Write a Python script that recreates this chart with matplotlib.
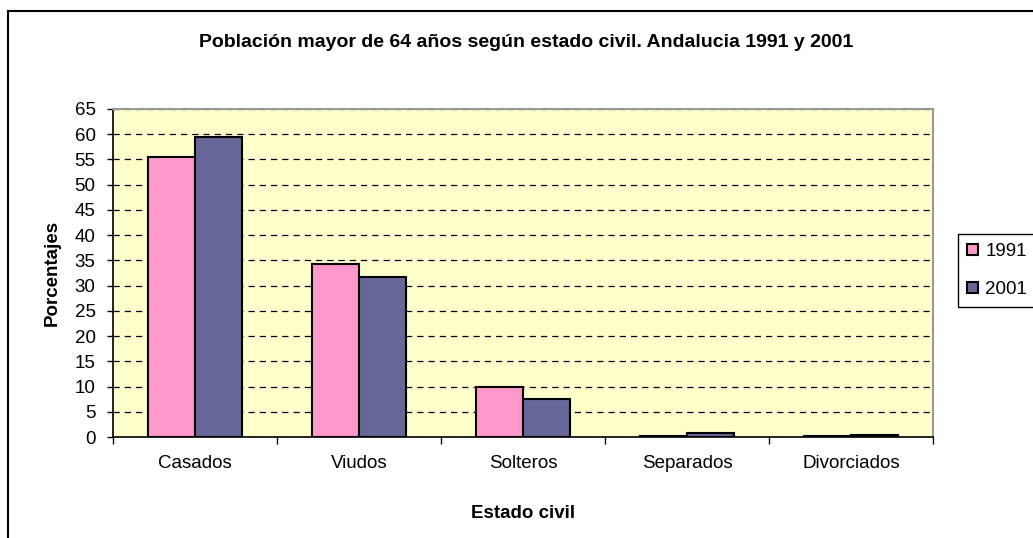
import numpy as np
import matplotlib
matplotlib.use("Agg")
import matplotlib.pyplot as plt
from matplotlib.patches import Rectangle

plt.rcParams['font.family'] = ['Liberation Sans', 'DejaVu Sans']

# datos
categorias = ["Casados", "Viudos", "Solteros", "Separados", "Divorciados"]
valores_1991 = [55.5, 34.2, 9.9, 0.3, 0.2]
valores_2001 = [59.5, 31.8, 7.5, 0.7, 0.4]
series = ["1991", "2001"]

fig = plt.figure(figsize=(10.33, 5.38), dpi=100)
ax = fig.add_axes([0.1094, 0.1877, 0.7938, 0.6097])
ax.set_facecolor("#FFFFCC")

x = np.arange(len(categorias))
w = 0.287
ax.bar(x - w / 2, valores_1991, w, color="#FF99CC", edgecolor="black", linewidth=1.5, label=series[0], zorder=3)
ax.bar(x + w / 2, valores_2001, w, color="#666699", edgecolor="black", linewidth=1.5, label=series[1], zorder=3)

ax.set_xlim(-0.5, len(categorias) - 0.5)
ax.set_ylim(0, 65)
ax.set_yticks(np.arange(0, 66, 5))
ax.yaxis.grid(True, linestyle=(0, (5, 4)), color="black", linewidth=0.9, zorder=0)
ax.set_axisbelow(True)

ax.set_xticks(x)
ax.set_xticklabels(categorias)
ax.set_xticks(np.arange(-0.5, len(categorias), 1), minor=True)
ax.tick_params(axis="x", which="major", length=0, pad=13, labelsize=13.5)
ax.tick_params(axis="x", which="minor", length=5, width=1, direction="out")
ax.tick_params(axis="y", length=4.5, width=1, labelsize=13.5, pad=8)

for s in ["top", "right"]:
    ax.spines[s].set_color("#999999")
    ax.spines[s].set_linewidth(1.5)
for s in ["left", "bottom"]:
    ax.spines[s].set_color("black")
    ax.spines[s].set_linewidth(1.2)

ax.set_ylabel("Porcentajes", fontsize=13.5, fontweight="bold", labelpad=10)
ax.set_xlabel("Estado civil", fontsize=13.5, fontweight="bold", labelpad=24)
fig.text(526 / 1033, 1 - 47 / 538, "Población mayor de 64 años según estado civil. Andalucia 1991 y 2001",
         ha="center", va="baseline", fontsize=14, fontweight="bold")

leg = fig.legend(loc="upper left", bbox_to_anchor=(958 / 1033, 1 - 234 / 538), fontsize=13.5,
                 handlelength=0.55, handleheight=0.55, handletextpad=0.4, labelspacing=1.1,
                 borderpad=0.5, borderaxespad=0, fancybox=False, framealpha=1)
leg.get_frame().set_edgecolor("black")
leg.get_frame().set_linewidth(1.0)

# borde exterior del grafico
fig.patches.append(Rectangle((8 / 1033, -0.1), 1.2, 1.1 - 11 / 538, transform=fig.transFigure,
                             fill=False, edgecolor="black", linewidth=1.5, zorder=0))

fig.savefig("out.png", dpi=100)
